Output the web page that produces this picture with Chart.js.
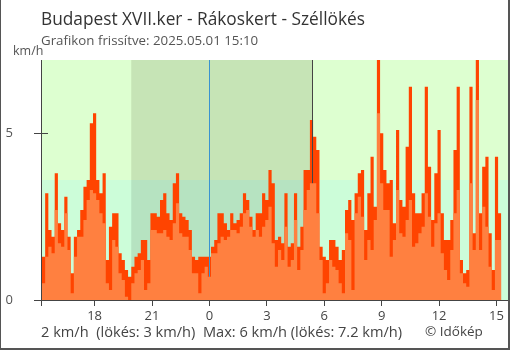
<!DOCTYPE html>
<html>
<head>
<meta charset="utf-8">
<script src="https://cdn.jsdelivr.net/npm/chart.js@4.4.1/dist/chart.umd.min.js"></script>
<style>
  html, body { margin: 0; padding: 0; background: #fff; }
  #wrap { position: relative; width: 510px; height: 350px; }
  canvas { display: block; }
</style>
</head>
<body>
<div id="wrap"><canvas id="chart" width="510" height="350"></canvas></div>
<script>
// 10-minute readings, first one at 15:15 of the previous day (hours counted from that midnight)
const startHour = 15.25;
const stepMinutes = 10;

// gusts (km/h)
const gust = [
  1.3, 3.2, 2.1, 1.9, 3.8, 2.3, 2.1, 3.1, 1.9, 0.8,
  1.9, 2.1, 2.7, 3.4, 3.6, 5.3, 5.6, 3.6, 3.2, 3.8,
  1.2, 2.2, 2.6, 2.6, 1.4, 1.2, 0.9, 0.7, 1.0, 1.3,
  1.4, 1.8, 1.8, 1.2, 2.6, 2.6, 2.5, 3.0, 3.2, 2.6,
  2.4, 3.5, 3.8, 2.6, 2.5, 2.4, 2.1, 1.3, 1.2, 1.3,
  1.3, 1.3, 1.3, 1.6, 1.8, 2.6, 2.6, 2.3, 2.1, 2.6,
  2.3, 2.4, 2.6, 3.2, 3.0, 2.5, 2.1, 2.6, 2.6, 3.2,
  3.0, 3.9, 3.5, 1.8, 1.9, 1.7, 3.2, 1.6, 1.7, 3.2,
  1.6, 2.2, 3.9, 3.9, 5.4, 4.9, 4.5, 1.6, 1.3, 1.2,
  1.8, 1.8, 1.6, 1.2, 1.5, 2.7, 3.0, 2.4, 3.2, 3.8,
  3.9, 2.1, 3.2, 4.3, 2.8, 7.2, 5.0, 3.9, 3.5, 3.6,
  2.3, 5.1, 3.0, 2.8, 4.6, 6.4, 3.2, 2.6, 2.6, 3.2,
  6.4, 4.0, 2.4, 3.8, 5.1, 2.6, 1.8, 1.8, 2.4, 4.5,
  6.4, 1.2, 0.8, 0.9, 6.4, 2.0, 7.2, 2.6, 4.0, 4.3,
  2.0, 0.9, 4.3, 2.6
];

// mean wind speed (km/h)
const wind = [
  0.5, 1.3, 1.6, 1.4, 2.7, 1.7, 1.6, 2.6, 1.5, 0.2,
  1.3, 1.9, 1.9, 2.4, 3.0, 3.3, 3.2, 3.0, 2.6, 2.3,
  0.5, 0.3, 1.8, 1.6, 0.8, 0.6, 0.1, 0.0, 0.5, 0.8,
  0.9, 1.2, 0.3, 0.5, 2.1, 2.1, 2.0, 2.0, 2.1, 1.9,
  1.8, 2.3, 2.9, 2.0, 1.9, 1.9, 1.5, 0.8, 0.8, 0.2,
  0.8, 1.0, 0.7, 1.4, 1.4, 1.7, 1.9, 1.8, 1.9, 2.1,
  2.1, 2.0, 2.2, 2.6, 2.7, 2.2, 1.9, 2.1, 1.9, 2.2,
  2.4, 2.8, 1.7, 1.0, 1.5, 1.2, 2.2, 1.0, 1.2, 2.4,
  0.9, 1.5, 2.7, 3.3, 3.5, 3.5, 2.6, 1.2, 0.2, 0.5,
  1.2, 1.0, 0.9, 0.5, 0.2, 2.0, 1.8, 0.3, 2.6, 3.1,
  2.5, 1.2, 1.8, 1.5, 2.4, 5.6, 3.5, 2.7, 2.7, 1.3,
  1.8, 3.3, 2.0, 1.9, 2.4, 3.0, 1.6, 1.7, 2.0, 2.2,
  3.2, 2.5, 1.6, 2.3, 2.6, 1.4, 0.9, 0.6, 1.5, 2.6,
  3.3, 0.8, 0.5, 0.4, 3.5, 1.5, 6.0, 1.5, 2.8, 2.2,
  1.0, 0.3, 1.8, 1.8
];

const hourTicks = [18, 21, 24, 27, 30, 33, 36, 39];   // 18 … 15 on the clock
const valueTicks = [0, 5];
const sunset = 19 + 55 / 60;
const sunrise = 24 + 5 + 23 / 60;
const midnight = 24;
const calmBand = 3.6;

const titleText = 'Budapest XVII.ker - Rákoskert - Széllökés';
const subtitleText = 'Grafikon frissítve: 2025.05.01 15:10';
const unitText = 'km/h';
const footerText = '2 km/h\u00a0 (lökés: 3 km/h)\u00a0 Max: 6 km/h (lökés: 7.2 km/h)';
const creditText = '© Időkép';

const FONT = '"Open Sans", "Noto Sans", sans-serif';

function toPoints(values) {
  const pts = values.map((v, i) => ({ x: startHour + i * stepMinutes / 60, y: v }));
  // closing point so the last step keeps its width
  pts.push({ x: startHour + values.length * stepMinutes / 60, y: values[values.length - 1] });
  return pts;
}

// coloured day / night background with the lower band
const backdrop = {
  id: 'backdrop',
  beforeDatasetsDraw(chart) {
    const { ctx, chartArea: a, scales: { x, y } } = chart;
    const xs = x.getPixelForValue(sunset), xe = x.getPixelForValue(sunrise);
    const yb = y.getPixelForValue(calmBand);
    ctx.save();
    ctx.fillStyle = '#ddffd0';
    ctx.fillRect(a.left, a.top, a.right - a.left, a.bottom - a.top);
    ctx.fillStyle = '#ccfdd9';
    ctx.fillRect(a.left, yb, a.right - a.left, a.bottom - yb);
    ctx.fillStyle = '#c6e4b6';
    ctx.fillRect(xs, a.top, xe - xs, yb - a.top);
    ctx.fillStyle = '#b6e3c1';
    ctx.fillRect(xs, yb, xe - xs, a.bottom - yb);
    ctx.restore();
  },
  // midnight and sunrise markers sit above the gusts, below the mean wind
  afterDatasetDraw(chart, args) {
    if (args.index !== 1) return;
    const { ctx, chartArea: a, scales: { x } } = chart;
    ctx.save();
    ctx.lineWidth = 1;
    const xm = Math.round(x.getPixelForValue(midnight)) + 0.5;
    ctx.strokeStyle = '#3a93d0';
    ctx.beginPath(); ctx.moveTo(xm, a.top); ctx.lineTo(xm, a.bottom); ctx.stroke();
    const xr = Math.round(x.getPixelForValue(sunrise)) + 0.5;
    ctx.strokeStyle = '#444';
    ctx.beginPath(); ctx.moveTo(xr, a.top); ctx.lineTo(xr, a.bottom); ctx.stroke();
    ctx.restore();
  },
  afterDraw(chart) {
    const { ctx, chartArea: a, scales: { y } } = chart;
    ctx.save();
    // axis lines
    ctx.fillStyle = '#444';
    ctx.fillRect(Math.round(a.left), a.top, 1, a.bottom - a.top + 6);
    ctx.fillRect(Math.round(a.left) - 7, Math.round(a.bottom), a.right - a.left + 7, 1);
    // inner half of the value ticks
    valueTicks.forEach(v => {
      const py = Math.round(y.getPixelForValue(v));
      ctx.fillRect(Math.round(a.left), py, 7, 1);
    });
    // headings and footer
    ctx.textBaseline = 'alphabetic';
    ctx.textAlign = 'left';
    ctx.fillStyle = '#333';
    ctx.font = '17.3px ' + FONT;
    ctx.fillText(titleText, 41, 25);
    ctx.fillStyle = '#555';
    ctx.font = '13.3px ' + FONT;
    ctx.fillText(subtitleText, 41, 45);
    ctx.font = '12.5px ' + FONT;
    ctx.fillText(unitText, 13, 55);
    ctx.fillStyle = '#444';
    ctx.font = '14.6px ' + FONT;
    ctx.fillText(footerText, 41, 337);
    ctx.font = '13.5px ' + FONT;
    ctx.fillText(creditText, 425, 336);
    // frame
    ctx.fillStyle = '#555';
    ctx.fillRect(0, 0, 1, 350);
    ctx.fillRect(508, 0, 2, 350);
    ctx.fillRect(0, 348, 510, 2);
    ctx.restore();
  }
};

new Chart(document.getElementById('chart'), {
  type: 'line',
  data: {
    datasets: [
      {
        label: 'Szél',
        data: toPoints(wind),
        stepped: true,
        fill: 'origin',
        backgroundColor: '#ff8040',
        borderWidth: 0,
        pointRadius: 0
      },
      {
        label: 'Széllökés',
        data: toPoints(gust),
        stepped: true,
        fill: 'origin',
        backgroundColor: '#ff4400',
        borderWidth: 0,
        pointRadius: 0
      }
    ]
  },
  options: {
    responsive: false,
    animation: false,
    events: [],
    layout: { padding: { left: 0, top: 60, right: 2, bottom: 0 } },
    plugins: { legend: { display: false }, tooltip: { enabled: false }, title: { display: false } },
    scales: {
      x: {
        type: 'linear',
        min: 15.2,
        max: 39.6,
        afterBuildTicks: s => { s.ticks = hourTicks.map(v => ({ value: v })); },
        afterFit: s => { s.height = 50; },
        border: { display: false },
        grid: { drawOnChartArea: false, drawTicks: true, tickLength: 6, color: '#444' },
        ticks: {
          autoSkip: false,
          maxRotation: 0,
          padding: 2,
          color: '#444',
          font: { family: FONT, size: 13 },
          callback: v => String(v % 24)
        }
      },
      y: {
        min: 0,
        max: 7.2,
        afterBuildTicks: s => { s.ticks = valueTicks.map(v => ({ value: v })); },
        afterFit: s => { s.width = 41; },
        border: { display: false },
        grid: { drawOnChartArea: false, drawTicks: true, tickLength: 7, color: '#444' },
        ticks: {
          padding: 21,
          color: '#555',
          font: { family: FONT, size: 13 }
        }
      }
    }
  },
  plugins: [backdrop]
});
</script>
</body>
</html>
